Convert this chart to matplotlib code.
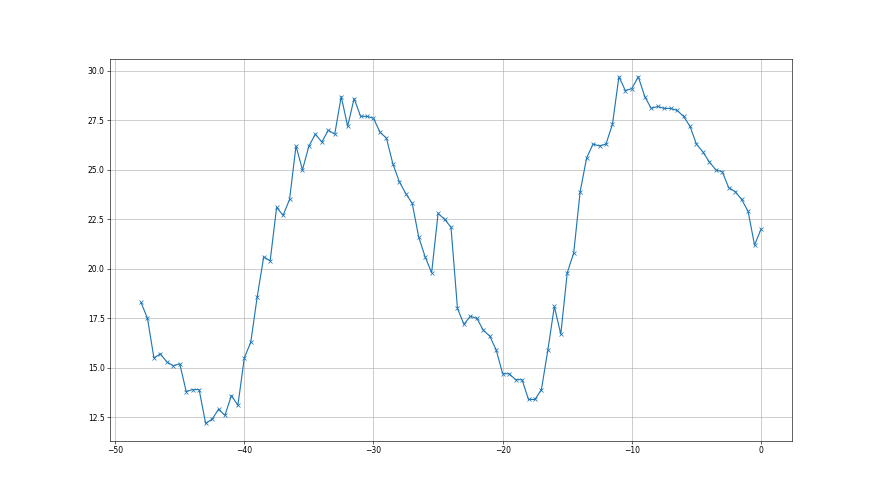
import matplotlib
matplotlib.use('Agg')
import matplotlib.pyplot as plt
import numpy as np

# x positions (0.5 step from -48 to 0) and values
x_vals = [-48.0, -47.5, -47.0, -46.5, -46.0, -45.5, -45.0, -44.5, -44.0, -43.5,
          -43.0, -42.5, -42.0, -41.5, -41.0, -40.5, -40.0, -39.5, -39.0, -38.5,
          -38.0, -37.5, -37.0, -36.5, -36.0, -35.5, -35.0, -34.5, -34.0, -33.5,
          -33.0, -32.5, -32.0, -31.5, -31.0, -30.5, -30.0, -29.5, -29.0, -28.5,
          -28.0, -27.5, -27.0, -26.5, -26.0, -25.5, -25.0, -24.5, -24.0, -23.5,
          -23.0, -22.5, -22.0, -21.5, -21.0, -20.5, -20.0, -19.5, -19.0, -18.5,
          -18.0, -17.5, -17.0, -16.5, -16.0, -15.5, -15.0, -14.5, -14.0, -13.5,
          -13.0, -12.5, -12.0, -11.5, -11.0, -10.5, -10.0, -9.5, -9.0, -8.5,
          -8.0, -7.5, -7.0, -6.5, -6.0, -5.5, -5.0, -4.5, -4.0, -3.5,
          -3.0, -2.5, -2.0, -1.5, -1.0, -0.5, 0.0]

y_vals = [18.3, 17.5, 15.5, 15.7, 15.3, 15.1, 15.2, 13.8, 13.9, 13.9,
          12.2, 12.4, 12.9, 12.6, 13.6, 13.1, 15.5, 16.3, 18.6, 20.6,
          20.4, 23.1, 22.7, 23.5, 26.2, 25.0, 26.2, 26.8, 26.4, 27.0,
          26.8, 28.7, 27.2, 28.6, 27.7, 27.7, 27.6, 26.9, 26.6, 25.3,
          24.4, 23.8, 23.3, 21.6, 20.6, 19.8, 22.8, 22.5, 22.1, 18.0,
          17.2, 17.6, 17.5, 16.9, 16.6, 15.9, 14.7, 14.7, 14.4, 14.4,
          13.4, 13.4, 13.9, 15.9, 18.1, 16.7, 19.8, 20.8, 23.9, 25.6,
          26.3, 26.2, 26.3, 27.3, 29.7, 29.0, 29.1, 29.7, 28.7, 28.1,
          28.2, 28.1, 28.1, 28.0, 27.7, 27.2, 26.3, 25.9, 25.4, 25.0,
          24.9, 24.1, 23.9, 23.5, 22.9, 21.2, 22.0]

fig, ax = plt.subplots(figsize=(16, 9), dpi=55)

ax.plot(x_vals, y_vals, marker='x', color='#1f77b4', linewidth=1.5)

ax.grid(True)

plt.savefig('out.png', dpi=55)
plt.close(fig)
